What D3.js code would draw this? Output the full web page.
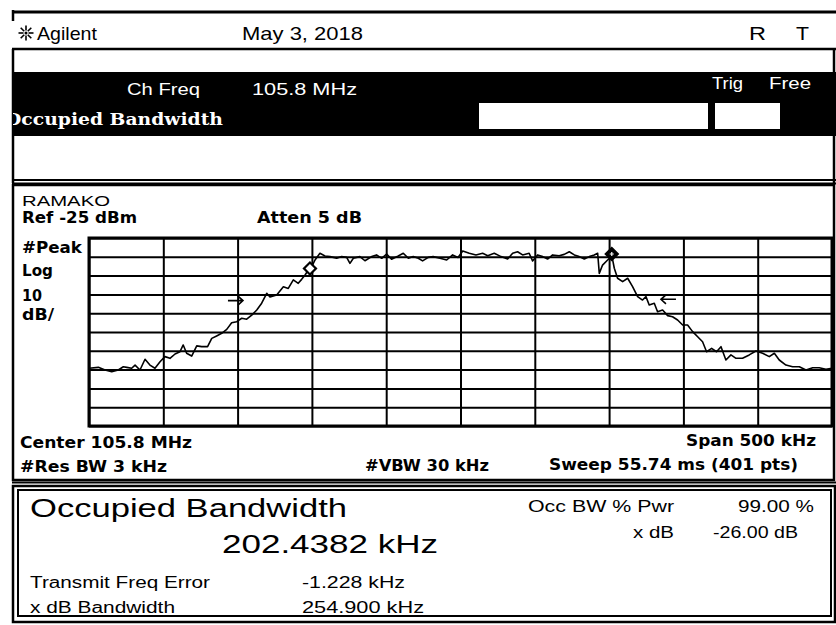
<!DOCTYPE html>
<html>
<head>
<meta charset="utf-8">
<script src="https://cdn.jsdelivr.net/npm/d3@7"></script>
<style>
  body { margin: 0; background: #fff; }
  svg { display: block; }
</style>
</head>
<body>
<script>
'use strict';

// trace: offset from centre (kHz) and level (dBm)
var freqOffset = [-250,-243.7,-239.2,-234.7,-230.3,-226.9,-224.6,-221.3,-219.0,-215.7,
  -212.3,-209.0,-205.6,-202.2,-198.9,-195.5,-192.1,-188.8,-186.6,-184.3,
  -180.9,-177.5,-174.2,-170.2,-167.4,-164.1,-160.7,-157.3,-154.0,-150.6,
  -147.2,-143.9,-140.5,-137.1,-133.8,-130.4,-128.2,-123.7,-119.2,-115.9,
  -112.5,-109.2,-106.9,-104.6,-102.4,-100.1,-97.9,-94.6,-91.2,-87.8,
  -83.3,-80.0,-76.6,-74.4,-72.1,-67.7,-64.3,-59.8,-56.5,-53.0,
  -49.7,-46.4,-41.9,-38.5,-35.1,-31.8,-28.4,-25.5,-21.7,-18.4,
  -13.8,-9.3,-5.3,-1.7,1.5,5.9,10.4,14.9,18.3,22.7,
  27.3,31.7,35.1,38.4,41.8,46.2,48.5,51.9,55.3,58.6,
  62.0,66.4,69.8,73.2,76.6,79.9,83.3,86.7,90.0,92.3,
  93.4,95.6,99.0,101.9,103.5,105.7,109.1,112.5,115.8,119.2,
  122.5,124.8,127.0,130.4,132.6,136.0,139.4,142.7,146.1,149.5,
  152.8,156.2,159.6,162.9,165.6,169.0,172.3,175.3,178.6,182.0,
  185.4,189.8,194.3,198.8,203.3,207.8,211.2,214.5,219.0,223.5,
  228.0,232.5,237.0,241.4,245.9,250];

var level = [-94.3,-93.8,-95.2,-96.1,-95.2,-93.5,-93.8,-94.3,-92.6,-95.2,
  -89.5,-92.6,-94.3,-90.8,-88.1,-89.0,-86.7,-85.5,-81.9,-86.3,
  -87.8,-82.4,-82.8,-82.8,-78.4,-77.1,-75.7,-73.6,-70.1,-69.5,
  -67.7,-68.2,-66.0,-63.3,-59.7,-54.4,-56.4,-55.3,-50.9,-51.8,
  -47.3,-49.1,-47.0,-44.7,-42.0,-40.3,-36.7,-33.1,-34.6,-34.9,
  -35.8,-34.9,-35.3,-38.5,-35.8,-34.9,-37.1,-34.9,-34.0,-35.8,
  -33.5,-36.3,-34.6,-33.1,-35.8,-34.9,-35.8,-37.2,-35.3,-34.9,
  -35.8,-36.7,-34.0,-35.4,-31.9,-33.1,-34.0,-33.1,-34.4,-33.1,
  -34.9,-36.2,-33.1,-32.3,-34.0,-33.1,-37.2,-34.0,-34.9,-36.2,
  -34.0,-34.4,-33.7,-32.3,-34.0,-34.9,-36.2,-34.9,-34.0,-33.1,
  -43.8,-39.4,-36.7,-34.6,-41.1,-46.4,-48.2,-46.4,-50.9,-56.2,
  -58.0,-56.2,-60.6,-59.7,-64.2,-63.3,-66.3,-66.9,-68.6,-71.3,
  -71.3,-74.8,-77.5,-80.2,-85.5,-83.7,-85.5,-82.8,-89.9,-87.2,
  -89.0,-89.0,-87.2,-85.1,-86.3,-88.1,-86.3,-89.9,-92.6,-93.5,
  -93.5,-95.2,-94.0,-94.0,-94.8,-94.3];

// OBW markers (open = lower edge, filled = upper edge)
var markerFreq = [-101.3, 101.8];
var markerLevel = [-41.2, -33.5];
var markerFilled = [false, true];

// x dB arrows
var arrowFreq = [-146.4, 134.9];
var arrowLevel = [-58.3, -57.6];
var arrowDir = [1, -1];

// axis settings of the analyser
var spanKHz = 500;
var refLevel = -25;
var dbPerDiv = 10;
var divisions = 10;

var W = 836, H = 625;
var plot = {left: 89, right: 832, top: 238, bottom: 426};

var svg = d3.select("body").append("svg")
    .attr("width", W)
    .attr("height", H);

var REG = "'Liberation Sans', Arial, sans-serif";
var BOLD = "'DejaVu Sans', Verdana, sans-serif";

// ---------- frame pieces ----------
function hline(y, x1, x2, w) {
  svg.append("line").attr("x1", x1).attr("x2", x2).attr("y1", y).attr("y2", y)
    .attr("stroke", "#000").attr("stroke-width", w);
}
function vline(x, y1, y2, w) {
  svg.append("line").attr("x1", x).attr("x2", x).attr("y1", y1).attr("y2", y2)
    .attr("stroke", "#000").attr("stroke-width", w);
}

hline(12, 12, 836, 3);
vline(13, 10, 21, 2.5);
hline(49, 12, 836, 2.5);
vline(13, 49, 183, 2.5);
vline(834, 49, 183, 2.5);

svg.append("rect").attr("x", 13).attr("y", 72).attr("width", 823).attr("height", 64).attr("fill", "#000");
svg.append("rect").attr("x", 479).attr("y", 103).attr("width", 229).attr("height", 26).attr("fill", "#fff");
svg.append("rect").attr("x", 715).attr("y", 103).attr("width", 65).attr("height", 26).attr("fill", "#fff");

hline(180, 12, 836, 2);
hline(183.5, 12, 836, 2);

// chart panel
svg.append("rect").attr("x", 13).attr("y", 185).attr("width", 821).attr("height", 295)
  .attr("fill", "none").attr("stroke", "#000").attr("stroke-width", 2.5);
hline(482.5, 12, 836, 2);

// result panel (double border)
svg.append("rect").attr("x", 13).attr("y", 486).attr("width", 822).attr("height", 136)
  .attr("fill", "none").attr("stroke", "#000").attr("stroke-width", 2.5);
svg.append("rect").attr("x", 18).attr("y", 490).attr("width", 813).attr("height", 126)
  .attr("fill", "none").attr("stroke", "#000").attr("stroke-width", 2);

// sun logo
var sun = svg.append("g").attr("transform", "translate(26,33)");
d3.range(8).forEach(function(i) {
  var a = i * Math.PI / 4;
  sun.append("line")
    .attr("x1", Math.cos(a) * 2.5).attr("y1", Math.sin(a) * 2.5)
    .attr("x2", Math.cos(a) * 7.5).attr("y2", Math.sin(a) * 7.5)
    .attr("stroke", "#000").attr("stroke-width", 1.6);
});
sun.append("circle").attr("r", 1.5).attr("fill", "#000");

// ---------- texts ----------
svg.append("clipPath").attr("id", "band").append("rect")
  .attr("x", 13).attr("y", 72).attr("width", 823).attr("height", 64);

var texts = [
  {t: "Agilent", x: 37, y: 40, w: 60, s: 19, f: REG, b: false, c: "#000"},
  {t: "May 3, 2018", x: 242, y: 40, w: 121, s: 19, f: REG, b: false, c: "#000"},
  {t: "R", x: 749, y: 40, w: 17, s: 19, f: REG, b: false, c: "#000"},
  {t: "T", x: 796, y: 40, w: 13, s: 19, f: REG, b: false, c: "#000"},
  {t: "Ch Freq", x: 127, y: 95, w: 73, s: 17, f: REG, b: false, c: "#fff"},
  {t: "105.8 MHz", x: 252, y: 95, w: 105, s: 17, f: REG, b: false, c: "#fff"},
  {t: "Trig", x: 712, y: 89, w: 31, s: 17, f: REG, b: false, c: "#fff"},
  {t: "Free", x: 769, y: 89, w: 42, s: 17, f: REG, b: false, c: "#fff"},
  {t: "Occupied Bandwidth", x: 5, y: 125, w: 218, s: 17, f: "'DejaVu Serif', serif", b: true, c: "#fff", clip: true},

  {t: "RAMAKO", x: 22, y: 206, w: 88, s: 15, f: REG, b: false, c: "#000"},
  {t: "Ref -25 dBm", x: 22, y: 223, w: 115, s: 15, f: BOLD, b: true, c: "#000"},
  {t: "Atten 5 dB", x: 257, y: 223, w: 105, s: 15, f: BOLD, b: true, c: "#000"},
  {t: "#Peak", x: 22, y: 253, w: 60, s: 15, f: BOLD, b: true, c: "#000"},
  {t: "Log", x: 22, y: 276, w: 31, s: 15, f: BOLD, b: true, c: "#000"},
  {t: "10", x: 22, y: 301, w: 20, s: 15, f: BOLD, b: true, c: "#000"},
  {t: "dB/", x: 22, y: 320, w: 32, s: 15, f: BOLD, b: true, c: "#000"},
  {t: "Center 105.8 MHz", x: 20, y: 448, w: 172, s: 15, f: BOLD, b: true, c: "#000"},
  {t: "Span 500 kHz", x: 686, y: 446, w: 130, s: 15, f: BOLD, b: true, c: "#000"},
  {t: "#Res BW 3 kHz", x: 20, y: 472, w: 147, s: 15, f: BOLD, b: true, c: "#000"},
  {t: "#VBW 30 kHz", x: 365, y: 471, w: 124, s: 15, f: BOLD, b: true, c: "#000"},
  {t: "Sweep 55.74 ms (401 pts)", x: 549, y: 470, w: 249, s: 15, f: BOLD, b: true, c: "#000"},

  {t: "Occupied Bandwidth", x: 30, y: 517, w: 317, s: 25, f: REG, b: false, c: "#000"},
  {t: "202.4382 kHz", x: 222, y: 553, w: 216, s: 25, f: REG, b: false, c: "#000"},
  {t: "Occ BW % Pwr", x: 528, y: 512, w: 146, s: 16, f: REG, b: false, c: "#000"},
  {t: "99.00 %", x: 738, y: 512, w: 76, s: 16, f: REG, b: false, c: "#000"},
  {t: "x dB", x: 633, y: 538, w: 41, s: 16, f: REG, b: false, c: "#000"},
  {t: "-26.00 dB", x: 713, y: 538, w: 85, s: 16, f: REG, b: false, c: "#000"},
  {t: "Transmit Freq Error", x: 30, y: 588, w: 180, s: 16, f: REG, b: false, c: "#000"},
  {t: "-1.228 kHz", x: 302, y: 588, w: 103, s: 16, f: REG, b: false, c: "#000"},
  {t: "x dB Bandwidth", x: 30, y: 613, w: 145, s: 16, f: REG, b: false, c: "#000"},
  {t: "254.900 kHz", x: 302, y: 613, w: 122, s: 16, f: REG, b: false, c: "#000"}
];

svg.selectAll("text.lbl")
  .data(texts)
  .enter()
  .append("text")
  .attr("class", "lbl")
  .attr("x", function(d) { return d.x; })
  .attr("y", function(d) { return d.y; })
  .attr("textLength", function(d) { return d.w; })
  .attr("lengthAdjust", "spacingAndGlyphs")
  .attr("clip-path", function(d) { return d.clip ? "url(#band)" : null; })
  .style("font-family", function(d) { return d.f; })
  .style("font-size", function(d) { return d.s + "px"; })
  .style("font-weight", function(d) { return d.b ? "bold" : "normal"; })
  .attr("fill", function(d) { return d.c; })
  .text(function(d) { return d.t; });

// ---------- graticule ----------
var x = d3.scaleLinear()
  .domain([-spanKHz / 2, spanKHz / 2])
  .range([plot.left, plot.right]);

var y = d3.scaleLinear()
  .domain([refLevel - dbPerDiv * divisions, refLevel])
  .range([plot.bottom, plot.top]);

var g = svg.append("g");

g.append("g")
  .attr("transform", "translate(0," + plot.bottom + ")")
  .call(d3.axisBottom(x)
    .tickValues(d3.range(-spanKHz / 2, spanKHz / 2 + 1, spanKHz / divisions))
    .tickSize(-(plot.bottom - plot.top))
    .tickFormat(""))
  .call(function(a) { a.select(".domain").remove(); })
  .selectAll("line").attr("stroke", "#000").attr("stroke-width", 2);

g.append("g")
  .attr("transform", "translate(" + plot.left + ",0)")
  .call(d3.axisLeft(y)
    .tickValues(d3.range(refLevel - dbPerDiv * divisions, refLevel + 1, dbPerDiv))
    .tickSize(-(plot.right - plot.left))
    .tickFormat(""))
  .call(function(a) { a.select(".domain").remove(); })
  .selectAll("line").attr("stroke", "#000").attr("stroke-width", 2);

g.append("rect")
  .attr("x", plot.left).attr("y", plot.top)
  .attr("width", plot.right - plot.left).attr("height", plot.bottom - plot.top)
  .attr("fill", "none").attr("stroke", "#000").attr("stroke-width", 3);

// ---------- trace ----------
var trace = freqOffset.map(function(f, i) { return {f: f, v: level[i]}; });

g.append("path")
  .datum(trace)
  .attr("fill", "none")
  .attr("stroke", "#000")
  .attr("stroke-width", 1.6)
  .attr("stroke-linejoin", "round")
  .attr("d", d3.line()
    .x(function(d) { return x(d.f); })
    .y(function(d) { return y(d.v); }));

// arrows
arrowFreq.forEach(function(f, i) {
  var tx = x(f), ty = y(arrowLevel[i]), dir = arrowDir[i];
  g.append("path")
    .attr("d", "M" + (tx - dir * 15) + "," + ty + "L" + tx + "," + ty +
      "M" + (tx - dir * 5) + "," + (ty - 4.5) + "L" + tx + "," + ty + "L" + (tx - dir * 5) + "," + (ty + 4.5))
    .attr("fill", "none").attr("stroke", "#000").attr("stroke-width", 1.6);
});

// diamond markers
markerFreq.forEach(function(f, i) {
  var m = g.append("g")
    .attr("transform", "translate(" + x(f) + "," + y(markerLevel[i]) + ") rotate(45)");
  m.append("path")
    .attr("d", d3.symbol().type(d3.symbolSquare).size(72)())
    .attr("fill", markerFilled[i] ? "#000" : "#fff")
    .attr("stroke", "#000")
    .attr("stroke-width", 2.2);
  if (markerFilled[i]) {
    m.append("path").attr("d", "M-2,0L2,0M0,-2L0,2")
      .attr("transform", "rotate(-45)")
      .attr("stroke", "#fff").attr("stroke-width", 1.2);
  }
});
</script>
</body>
</html>
